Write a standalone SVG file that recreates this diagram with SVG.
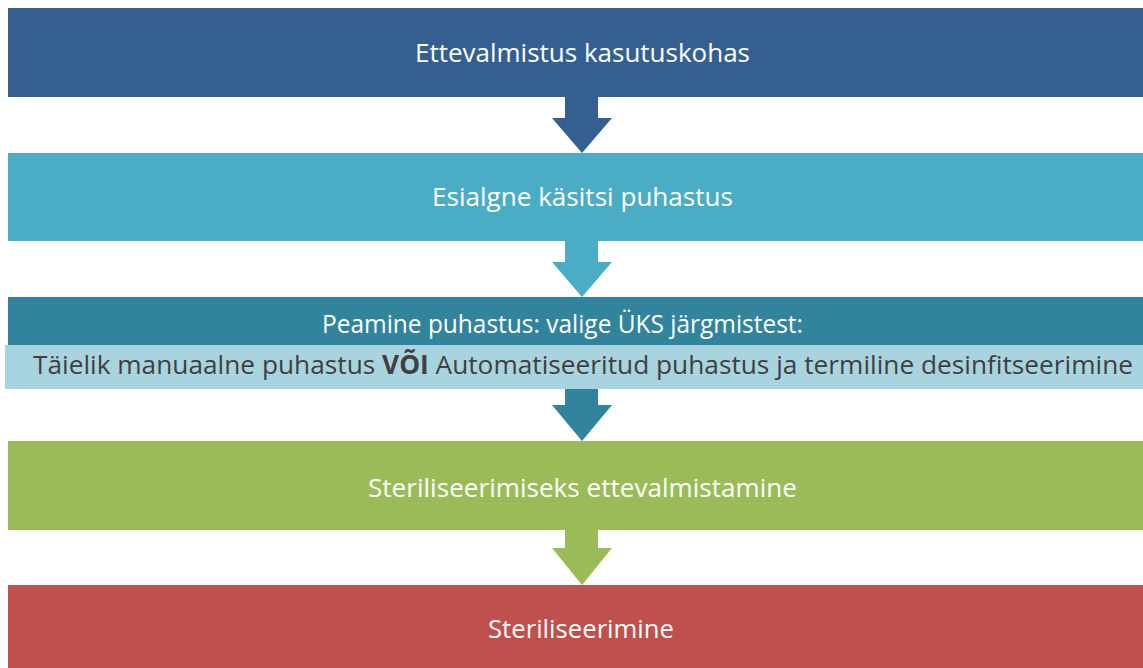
<svg xmlns="http://www.w3.org/2000/svg" width="1143" height="668" viewBox="0 0 1143 668">
<style>
.t{font-family:"Open Sans","Noto Sans","Liberation Sans",sans-serif;font-size:26px;fill:#ffffff;text-anchor:middle}
.d{font-family:"Open Sans","Noto Sans","Liberation Sans",sans-serif;font-size:26px;fill:#404040}
</style>
<rect width="1143" height="668" fill="#ffffff"/>
<g id="connectors">
<path d="M565,97 H598 V118 H612 L582,153 L552,118 H565 Z" fill="#365f91"/>
<path d="M565,241 H598 V262 H612 L582,297 L552,262 H565 Z" fill="#4bacc6"/>
<path d="M565,389 H598 V405 H612 L582,441 L552,405 H565 Z" fill="#31849b"/>
<path d="M565,530 H598 V548 H612 L582,585 L552,548 H565 Z" fill="#9bbb59"/>
</g>
<g id="node1">
<rect x="8" y="8" width="1135" height="89" fill="#365f91"/>
<text class="t" x="582.5" y="62" textLength="335" lengthAdjust="spacingAndGlyphs">Ettevalmistus kasutuskohas</text>
</g>
<g id="node2">
<rect x="8" y="153" width="1135" height="88" fill="#4bacc6"/>
<text class="t" x="582.5" y="206" textLength="301" lengthAdjust="spacingAndGlyphs">Esialgne käsitsi puhastus</text>
</g>
<g id="node3">
<rect x="8" y="297" width="1135" height="48" fill="#31849b"/>
<text class="t" x="562.5" y="333" textLength="481" lengthAdjust="spacingAndGlyphs">Peamine puhastus: valige ÜKS järgmistest:</text>
<rect x="5" y="345" width="1138" height="44" fill="#a8d4e0"/>
<text class="d" x="33" y="374" textLength="1100" lengthAdjust="spacingAndGlyphs">Täielik manuaalne puhastus <tspan font-weight="bold">VÕI</tspan> Automatiseeritud puhastus ja termiline desinfitseerimine</text>
</g>
<g id="node4">
<rect x="8" y="441" width="1135" height="89" fill="#9bbb59"/>
<text class="t" x="582.5" y="497" textLength="429" lengthAdjust="spacingAndGlyphs">Steriliseerimiseks ettevalmistamine</text>
</g>
<g id="node5">
<rect x="8" y="585" width="1135" height="83" fill="#c0504d"/>
<text class="t" x="581" y="638" textLength="186" lengthAdjust="spacingAndGlyphs">Steriliseerimine</text>
</g>
</svg>
